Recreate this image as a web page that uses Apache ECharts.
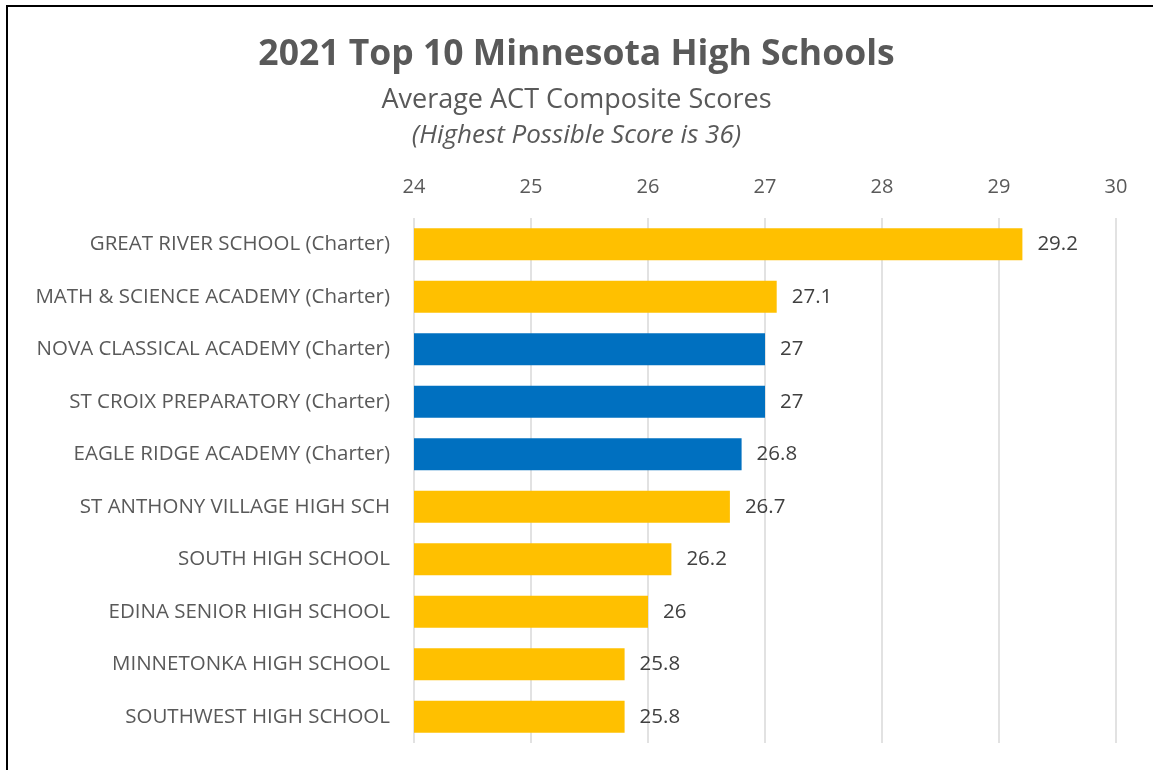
<!DOCTYPE html>
<html>
<head>
<meta charset="utf-8">
<script src="https://cdn.jsdelivr.net/npm/echarts@6/dist/echarts.min.js"></script>
<style>
html,body{margin:0;padding:0;background:#fff;}
#frame{position:absolute;left:6px;top:5px;width:1147px;height:765px;border-left:2px solid #000;border-top:2px solid #000;box-sizing:border-box;}
#chart{position:absolute;left:0;top:0;width:1153px;height:770px;}
</style>
</head>
<body>
<div id="chart"></div>
<div id="frame"></div>
<script>
var schools = ['GREAT RIVER SCHOOL (Charter)','MATH & SCIENCE ACADEMY (Charter)','NOVA CLASSICAL ACADEMY (Charter)','ST CROIX PREPARATORY (Charter)','EAGLE RIDGE ACADEMY (Charter)','ST ANTHONY VILLAGE HIGH SCH','SOUTH HIGH SCHOOL','EDINA SENIOR HIGH SCHOOL','MINNETONKA HIGH SCHOOL','SOUTHWEST HIGH SCHOOL'];
var scores = [29.2, 27.1, 27, 27, 26.8, 26.7, 26.2, 26, 25.8, 25.8];
var highlighted = [false, false, true, true, true, false, false, false, false, false];

var chart = echarts.init(document.getElementById('chart'));
var font = '"Open Sans", "Noto Sans", sans-serif';
var barData = scores.map(function (v, i) {
	return {value: v, itemStyle: {color: highlighted[i] ? '#0070C0' : '#FFC000'}};
});
var option = {
	backgroundColor: '#fff',
	animation: false,
	title: [
		{text: '2021 Top 10 Minnesota High Schools', left: 'center', top: 32,
			textStyle: {fontFamily: font, fontSize: 35.5, fontWeight: 'bold', color: '#595959'}},
		{text: 'Average ACT Composite Scores', left: 'center', top: 82,
			textStyle: {fontFamily: font, fontSize: 27, fontWeight: 'normal', color: '#595959'}},
		{text: '(Highest Possible Score is 36)', left: 'center', top: 118,
			textStyle: {fontFamily: font, fontSize: 26, fontWeight: 'normal', fontStyle: 'italic', color: '#595959'}}
	],
	grid: {left: 414, right: 37, top: 218, bottom: 27, containLabel: false},
	xAxis: {
		type: 'value', position: 'top', min: 24, max: 30, interval: 1,
		axisLine: {show: false}, axisTick: {show: false},
		axisLabel: {fontFamily: font, fontSize: 20, color: '#595959', margin: 21},
		splitLine: {lineStyle: {color: '#d9d9d9', width: 1.5}}
	},
	yAxis: {
		type: 'category', inverse: true, data: schools,
		axisLine: {show: false}, axisTick: {show: false},
		axisLabel: {fontFamily: font, fontSize: 20.5, color: '#595959', margin: 24}
	},
	series: [{
		type: 'bar', data: barData, barCategoryGap: '39%',
		label: {show: true, position: 'right', distance: 15, fontFamily: font, fontSize: 20.5, color: '#404040'}
	}]
};
chart.setOption(option);
</script>
</body>
</html>
